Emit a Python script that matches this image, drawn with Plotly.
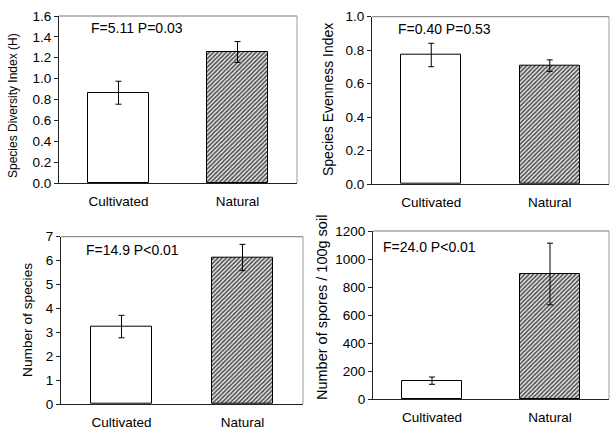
import plotly.graph_objects as go

categories = ["Cultivated", "Natural"]

diversity = [0.865, 1.255]
diversity_err = [0.11, 0.10]

evenness = [0.771, 0.707]
evenness_err = [0.07, 0.035]

n_species = [3.24, 6.13]
n_species_err = [0.47, 0.55]

spores = [131, 893]
spores_err = [26, 220]

panels = [
    dict(vals=diversity, err=diversity_err, ytitle="Species Diversity Index (H)",
         yrange=[0, 1.6], dtick=0.2, fmt=".1f", note="F=5.11 P=0.03"),
    dict(vals=evenness, err=evenness_err, ytitle="Species Evenness Index",
         yrange=[0, 1.0], dtick=0.2, fmt=".1f", note="F=0.40 P=0.53"),
    dict(vals=n_species, err=n_species_err, ytitle="Number of species",
         yrange=[0, 7], dtick=1, fmt="d", note="F=14.9 P<0.01"),
    dict(vals=spores, err=spores_err, ytitle="Number of spores / 100g soil",
         yrange=[0, 1200], dtick=200, fmt="d", note="F=24.0 P<0.01"),
]

W, H = 611, 430
# plot areas in pixels: (x0, x1, ytop, ybottom)
boxes = [(59, 297, 16, 183), (372, 609, 16.7, 184), (61, 303, 236.7, 404), (373, 609, 231, 399)]
note_pos = [(89, 28), (396, 29), (84, 250), (381, 247)]
title_pos = [(13, 106), (328, 100), (27, 320), (322, 308)]
title_size = [12, 14, 13.7, 14.5]

fig = go.Figure()
FONT = "Liberation Sans, Arial, sans-serif"

for i, (p, b) in enumerate(zip(panels, boxes)):
    n = "" if i == 0 else str(i + 1)
    xa, ya = "x" + n, "y" + n
    fig.add_trace(go.Bar(
        x=[0, 1], y=p["vals"], width=0.51,
        xaxis=xa, yaxis=ya,
        marker=dict(
            color=["white", "#555555"],
            line=dict(color="black", width=1),
            pattern=dict(shape=["", "/"], fgcolor="#111111", bgcolor="white",
                         size=3, solidity=0.6, fillmode="replace"),
        ),
        error_y=dict(type="data", array=p["err"], color="black", thickness=1, width=3),
        showlegend=False,
    ))
    x0, x1, yt, yb = b
    fig.layout["xaxis" + n] = dict(
        domain=[x0 / W, x1 / W], anchor=ya, range=[-0.5, 1.5], automargin=False,
        tickvals=[0, 1], ticktext=categories, ticks="", showgrid=False, zeroline=False,
        showline=True, linecolor="#222222", linewidth=1, mirror=False,
        ticklabelstandoff=6,
        tickfont=dict(family=FONT, size=13.5, color="black"),
    )
    fig.layout["yaxis" + n] = dict(
        domain=[(H - yb) / H, (H - yt) / H], anchor=xa, range=p["yrange"], automargin=False,
        dtick=p["dtick"], tickformat=p["fmt"], ticks="outside", ticklen=4,
        tickcolor="#222222", showgrid=False, zeroline=False,
        showline=True, linecolor="#222222", linewidth=1,
        tickfont=dict(family=FONT, size=13.5, color="black"),
    )
    tx, ty = title_pos[i]
    fig.add_annotation(text=p["ytitle"], xref="paper", yref="paper",
                       x=tx / W, y=(H - ty) / H, textangle=-90,
                       xanchor="center", yanchor="middle", showarrow=False,
                       font=dict(family=FONT, size=title_size[i], color="black"))
    # light frame on top and right
    fig.add_shape(type="line", xref="paper", yref="paper",
                  x0=x0 / W, x1=x1 / W, y0=(H - yt) / H, y1=(H - yt) / H,
                  line=dict(color="#777777", width=1))
    fig.add_shape(type="line", xref="paper", yref="paper",
                  x0=x1 / W, x1=x1 / W, y0=(H - yb) / H, y1=(H - yt) / H,
                  line=dict(color="#999999", width=1))
    nx, ny = note_pos[i]
    fig.add_annotation(text=p["note"], xref="paper", yref="paper",
                       x=nx / W, y=(H - ny) / H, xanchor="left", yanchor="middle",
                       showarrow=False, font=dict(family=FONT, size=14, color="black"))

fig.update_layout(
    width=W, height=H, margin=dict(l=0, r=0, t=0, b=0),
    paper_bgcolor="white", plot_bgcolor="white",
    bargap=0,
)
fig.write_html(
    "out.html",
    config={"displayModeBar": False},
    post_script="document.body.style.margin='0';document.body.style.overflow='hidden';",
)
